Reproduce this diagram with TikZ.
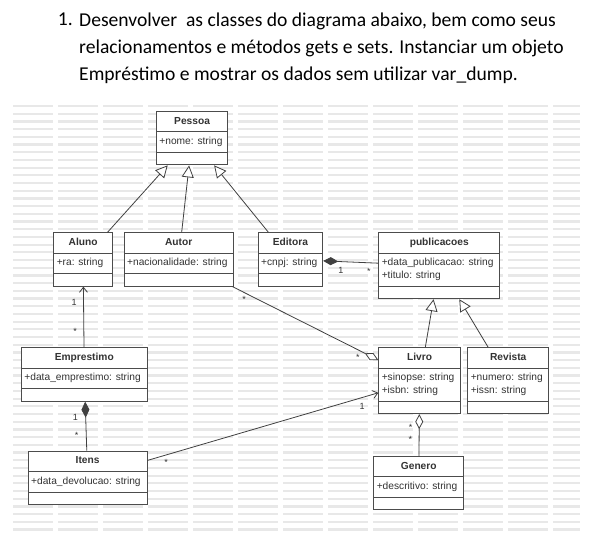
\documentclass[tikz,border=0pt]{standalone}
\usepackage{fontspec}
\setmainfont{Carlito}
\setsansfont{Liberation Sans}
\usetikzlibrary{arrows.meta,shapes.multipart}

\begin{document}
\begin{tikzpicture}[x=1pt,y=-1pt]
    \tikzset{
        cls/.style={
            rectangle split, rectangle split parts=3,
            rectangle split part align={center,left,left},
            rectangle split empty part height=1.5pt,
            rectangle split empty part depth=0pt,
            draw=black!70, fill=white, line width=0.9pt,
            text=black!80, align=left,
            font=\sffamily\fontsize{10.2}{12.5}\selectfont,
            inner xsep=3pt, inner ysep=3.5pt,
            anchor=north west, minimum width=#1
        },
        task/.style={font=\fontsize{19.6}{27}\selectfont, align=left, inner sep=3pt},
        wmark/.style={draw=black!9, line width=2.2pt, dash pattern=on 40pt off 5pt},
        assoc/.style={draw=black!75, line width=0.8pt},
        gen/.style={assoc, -{Triangle[open, length=12pt, width=12pt, fill=white]}},
        nav/.style={assoc, -{Straight Barb[length=5pt, width=8pt]}},
        mult/.style={font=\sffamily\fontsize{9}{10}\selectfont, text=black!80, inner sep=1.5pt}
    }

    \useasboundingbox (0,0) rectangle (606,549);

    % enunciado
    \node[task, anchor=north west] (task) at (76,10)
        {Desenvolver\ \ as classes do diagrama abaixo, bem como seus\\
         relacionamentos e métodos gets e sets. Instanciar um objeto\\
         Empréstimo e mostrar os dados sem utilizar var\_dump.};
    \node[task, anchor=north east] (num) at (task.north west) {1.};

    % fundo marcado
    \foreach \r in {0,...,55}
        \draw[wmark] (13,{106+7.7*\r}) -- (580,{106+7.7*\r});

    % classes
    \node[cls=71.3pt] (pessoa) at (156,111)
        {\textbf{\strut Pessoa}\nodepart{two}\strut+nome: string};
    \node[cls=58.7pt] (aluno) at (53.3,232.3)
        {\textbf{\strut Aluno}\nodepart{two}\strut+ra: string};
    \node[cls=109pt] (autor) at (123.7,232.3)
        {\textbf{\strut Autor}\nodepart{two}\strut+nacionalidade: string};
    \node[cls=64.6pt] (editora) at (257.7,232.3)
        {\textbf{\strut Editora}\nodepart{two}\strut+cnpj: string};
    \node[cls=121pt] (publicacoes) at (378.3,232.3)
        {\textbf{\strut publicacoes}\nodepart{two}\strut+data\_publicacao: string\\\strut+titulo: string};
    \node[cls=125.7pt] (emprestimo) at (21,347.3)
        {\textbf{\strut Emprestimo}\nodepart{two}\strut+data\_emprestimo: string};
    \node[cls=81.7pt] (livro) at (378.3,347.3)
        {\textbf{\strut Livro}\nodepart{two}\strut+sinopse: string\\\strut+isbn: string};
    \node[cls=81pt] (revista) at (467.3,347.3)
        {\textbf{\strut Revista}\nodepart{two}\strut+numero: string\\\strut+issn: string};
    \node[cls=119pt] (itens) at (27.7,450.7)
        {\textbf{\strut Itens}\nodepart{two}\strut+data\_devolucao: string};
    \node[cls=90pt] (genero) at (373.3,456)
        {\textbf{\strut Genero}\nodepart{two}\strut+descritivo: string};

    % heranca
    \draw[gen] (aluno) -- (pessoa);
    \draw[gen] (autor) -- (pessoa);
    \draw[gen] (editora) -- (pessoa);
    \draw[gen] (livro) -- (publicacoes);
    \draw[gen] (revista) -- (publicacoes);

    % associacoes
    \draw[assoc, {Diamond[length=15pt, width=8pt]}-] (editora) --
        node[mult, pos=0.32, below=4pt] {1}
        node[mult, pos=0.83, below=4pt] {*} (publicacoes);
    \draw[assoc, -{Diamond[open, length=15pt, width=8pt, fill=white]}] (autor) --
        node[mult, pos=0.08, below=2pt] {*}
        node[mult, pos=0.86, below=3pt] {*} (livro);
    \draw[nav] (emprestimo) --
        node[mult, pos=0.26, left=5pt] {*}
        node[mult, pos=0.74, left=5pt] {1} (aluno);
    \draw[nav, {Diamond[length=16pt, width=8pt]}-] (emprestimo) --
        node[mult, pos=0.33, left=6pt] {1}
        node[mult, pos=0.68, left=6pt] {*} (itens);
    \draw[nav] (itens) --
        node[mult, pos=0.08, below=2pt] {*}
        node[mult, pos=0.93, below=4pt] {1} (livro);
    \draw[nav, {Diamond[open, length=15pt, width=8pt, fill=white]}-] (livro) --
        node[mult, pos=0.32, left=5pt] {*}
        node[mult, pos=0.6, left=5pt] {*} (genero);
\end{tikzpicture}
\end{document}
